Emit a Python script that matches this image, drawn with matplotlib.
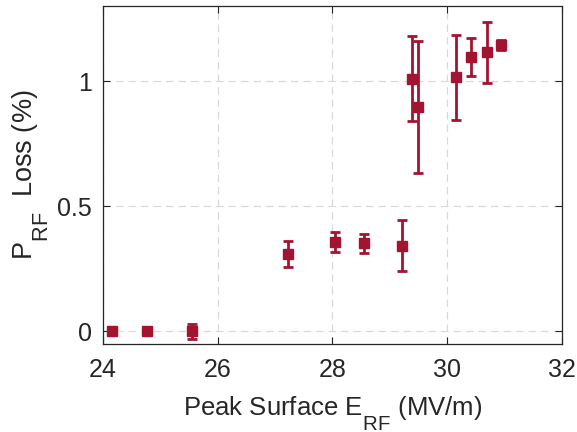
import matplotlib
matplotlib.use('Agg')
import matplotlib.pyplot as plt
import matplotlib._mathtext as mt

### Data

e_peak = [24.17, 24.77, 25.56, 27.22, 28.04, 28.55, 29.22, 29.38, 29.49, 30.15, 30.42, 30.70, 30.93]
p_loss = [0.0, 0.0, 0.0, 0.311, 0.357, 0.352, 0.343, 1.009, 0.896, 1.015, 1.097, 1.115, 1.146]
p_err = [0.0, 0.0, 0.03, 0.052, 0.039, 0.038, 0.103, 0.17, 0.265, 0.171, 0.076, 0.123, 0.02]

x_ticks = [24, 26, 28, 30, 32]
y_ticks = [0, 0.5, 1]
y_tick_labels = ['0', '0.5', '1']

### Style

red = '#A2142F'
text_col = '#262626'
plt.rcParams['font.family'] = ['Liberation Sans', 'DejaVu Sans']
plt.rcParams['mathtext.default'] = 'regular'

# bigger, lower subscripts, closer to the original look
mt.SHRINK_FACTOR = 0.8
mt.FontConstantsBase.sub1 = 1.1
mt.FontConstantsBase.subdrop = 0.9

fig = plt.figure(figsize=(5.77, 4.32), dpi=100)
ax = fig.add_axes([0.178, 0.204, 0.796, 0.782])

ax.errorbar(e_peak, p_loss, yerr=p_err, fmt='s', color=red, ms=6.5,
            elinewidth=2, capsize=3.5, capthick=2, zorder=3)

ax.set_xlim(24, 32)
ax.set_ylim(-0.05, 1.3)
ax.set_xticks(x_ticks)
ax.set_yticks(y_ticks)
ax.set_yticklabels(y_tick_labels)

ax.grid(True, linestyle=(0, (6, 4)), color='#d9d9d9', linewidth=0.9)
ax.set_axisbelow(True)
ax.tick_params(direction='in', top=True, right=True, length=5, width=0.8,
               labelsize=18, colors=text_col)
ax.tick_params(axis='x', pad=10)
ax.tick_params(axis='y', pad=8)
for s in ax.spines.values():
    s.set_color(text_col)
    s.set_linewidth(0.9)

ax.set_xlabel('Peak Surface E$_{RF}$ (MV/m)', fontsize=18.5, color=text_col, labelpad=9)
ax.set_ylabel('P$_{RF}$  Loss (%)', fontsize=19.5, color=text_col, labelpad=4)

fig.savefig('out.png', dpi=100)
